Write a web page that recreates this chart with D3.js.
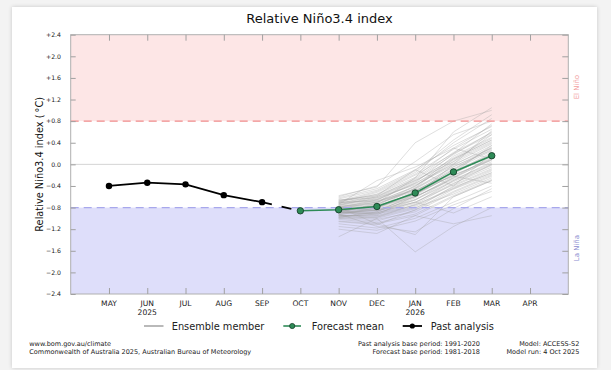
<!DOCTYPE html>
<html><head><meta charset="utf-8">
<script src="https://cdn.jsdelivr.net/npm/d3@7"></script>
<style>
html,body{margin:0;padding:0;background:#f3f3f3;}
#card{position:absolute;left:12px;top:7px;width:585px;height:361px;background:#fff;box-shadow:0 0 4px rgba(0,0,0,0.18);}
svg{position:absolute;left:0;top:0;}
text{font-family:"DejaVu Sans",sans-serif;}
</style></head>
<body><div id="card"></div>
<svg id="chart" width="611" height="370"></svg>
<script>
// ---- data ----
const months = ["MAY","JUN","JUL","AUG","SEP","OCT","NOV","DEC","JAN","FEB","MAR","APR"];
const monthIdx = [1,2,3,4,5,6,7,8,9,10,11,12];
const yearLabels = [{i:2,t:"2025"},{i:9,t:"2026"}];
const yTicks = [-2.4,-2.0,-1.6,-1.2,-0.8,-0.4,0.0,0.4,0.8,1.2,1.6,2.0,2.4];
const pastIdx = [1,2,3,4,5];
const pastVals = [-0.40,-0.34,-0.37,-0.57,-0.70];
const linkIdx = [5,6];
const linkVals = [-0.70,-0.86];
const meanIdx = [6,7,8,9,10,11];
const meanVals = [-0.86,-0.84,-0.78,-0.53,-0.14,0.16];
const ensIdx = [7,8,9,10,11];
const ensemble = [
[-0.62,-0.45,-0.10,0.35,0.70],[-0.70,-0.55,-0.20,0.20,0.55],[-0.78,-0.70,-0.45,-0.05,0.30],
[-0.85,-0.80,-0.55,-0.20,0.10],[-0.92,-0.90,-0.70,-0.35,-0.05],[-1.00,-1.05,-0.85,-0.50,-0.20],
[-0.88,-0.75,-0.40,0.05,0.40],[-0.80,-0.85,-0.65,-0.30,0.00],[-0.95,-0.95,-0.75,-0.45,-0.15],
[-0.75,-0.60,-0.30,0.10,0.45],[-0.68,-0.50,-0.15,0.40,0.85],[-0.90,-0.85,-0.60,-0.25,0.15],
[-1.05,-1.10,-0.95,-0.60,-0.30],[-0.82,-0.72,-0.50,-0.10,0.25],[-0.72,-0.65,-0.35,0.00,0.30],
[-0.98,-0.92,-0.72,-0.30,0.05],[-0.86,-0.82,-0.58,-0.18,0.20],[-0.78,-0.68,-0.42,0.15,0.50],
[-0.94,-0.98,-0.80,-0.55,-0.25],[-0.60,-0.40,0.05,0.55,0.80],[-0.84,-0.78,-0.52,-0.12,0.18],
[-1.10,-1.18,-1.00,-0.70,-0.40],[-0.76,-0.62,-0.38,-0.02,0.35],[-0.90,-0.88,-0.62,-0.22,0.12],
[-0.66,-0.58,-0.28,0.18,0.60],[-0.96,-1.00,-0.82,-0.40,-0.10],[-0.80,-0.70,-0.48,-0.15,0.22],
[-0.88,-0.86,-0.66,-0.32,-0.02],[-0.74,-0.64,-0.32,0.12,0.48],[-1.02,-1.08,-0.92,-0.58,-0.28],
[-0.82,-0.76,-0.55,-0.20,0.08],[-0.70,-0.52,-0.18,0.28,0.65],[-0.92,-0.84,-0.60,-0.28,0.02],
[-0.86,-0.90,-0.70,-0.38,-0.08],[-0.64,-0.48,-0.12,0.45,0.92],[-0.98,-1.02,-0.88,-0.52,-0.22],
[-0.78,-0.74,-0.46,-0.08,0.28],[-0.84,-0.80,-0.56,-0.16,0.16],[-1.15,-1.22,-1.05,-0.75,-0.50],
[-0.72,-0.60,-0.26,0.22,0.58],[-0.90,-0.82,-0.50,-0.10,0.32],[-0.80,-0.78,-0.60,-0.26,0.10],
[-0.94,-0.96,-0.78,-0.44,-0.12],[-0.68,-0.56,-0.24,0.30,0.72],[-0.86,-0.76,-0.44,-0.04,0.26],
[-1.00,-0.98,-0.74,-0.36,0.00],[-0.76,-0.66,-0.36,0.08,0.42],[-0.88,-0.92,-0.76,-0.42,-0.16],
[-0.82,-0.70,-0.40,0.02,0.38],[-0.96,-0.90,-0.66,-0.24,0.08],[-0.58,-0.42,0.40,0.80,1.00],
[-1.34,-1.00,-1.62,-1.15,-0.80],[-1.20,-1.28,-0.95,-1.10,-0.95],[-0.80,-1.10,-1.30,-0.60,-0.30],
[-0.74,-0.30,-0.05,0.30,0.10],[-0.90,-0.72,-0.25,0.60,1.05],[-0.84,-0.86,-0.70,-0.90,-0.60],
[-0.72,-0.58,-0.10,-0.40,0.20],[-0.88,-0.94,-0.58,0.00,0.62],[-0.92,-1.15,-1.25,-0.82,-0.45],
[-0.66,-0.62,-0.30,0.05,0.55],[-0.98,-0.88,-0.55,-0.15,0.35],[-0.80,-0.66,-0.34,0.20,0.75],
[-1.06,-1.12,-0.84,-0.46,-0.18],[-0.70,-0.68,-0.48,-0.22,-0.35],[-0.94,-0.80,-0.44,0.10,0.45]
];

// ---- layout ----
const L=70.7, R=568.3, T=34.7, B=294;
const x = d3.scaleLinear().domain([0,13]).range([L,R]);
const y = d3.scaleLinear().domain([-2.4,2.4]).range([B,T]);
const svg = d3.select("#chart");

// bands
svg.append("rect").attr("x",L).attr("y",y(2.4)).attr("width",R-L).attr("height",y(0.8)-y(2.4)).attr("fill","#fde6e6");
svg.append("rect").attr("x",L).attr("y",y(-0.8)).attr("width",R-L).attr("height",y(-2.4)-y(-0.8)).attr("fill","#dedefa");
// zero line
svg.append("line").attr("x1",L).attr("x2",R).attr("y1",y(0)).attr("y2",y(0)).attr("stroke","#d4d4d4").attr("stroke-width",1);

// ensemble
const lineGen = (idx) => d3.line().x((d,i)=>x(idx[i])).y(d=>y(d));
svg.append("g").selectAll("path").data(ensemble).join("path")
  .attr("d", d=>lineGen(ensIdx)(d)).attr("fill","none").attr("stroke","#a0a0a0").attr("stroke-opacity",0.42).attr("stroke-width",0.8);

// threshold dashed
svg.append("line").attr("x1",L).attr("x2",R).attr("y1",y(0.8)).attr("y2",y(0.8)).attr("stroke","#f08a8a").attr("stroke-width",1.2).attr("stroke-dasharray","8,5");
svg.append("line").attr("x1",L).attr("x2",R).attr("y1",y(-0.8)).attr("y2",y(-0.8)).attr("stroke","#a8a8ec").attr("stroke-width",1.2).attr("stroke-dasharray","8,5");

// frame
svg.append("rect").attr("x",L).attr("y",T).attr("width",R-L).attr("height",B-T).attr("fill","none").attr("stroke","#b0b0b0").attr("stroke-width",1);

// axes
const tickCol="#a0a0a0";
const axL = svg.append("g").attr("transform",`translate(${L},0)`).call(d3.axisRight(y).tickValues(yTicks).tickSize(5).tickFormat(""));
const axR = svg.append("g").attr("transform",`translate(${R},0)`).call(d3.axisLeft(y).tickValues(yTicks).tickSize(6).tickFormat(""));
const axT = svg.append("g").attr("transform",`translate(0,${T})`).call(d3.axisBottom(x).tickValues(monthIdx).tickSize(6).tickFormat(""));
const axB = svg.append("g").attr("transform",`translate(0,${B})`).call(d3.axisTop(x).tickValues(monthIdx).tickSize(6).tickFormat(""));
[axL,axR,axT,axB].forEach(a=>{a.select(".domain").remove();a.selectAll("line").attr("stroke",tickCol);});

// y tick labels
const fmt = v => v===0 ? "0.0" : (v>0 ? "+"+v.toFixed(1) : "\u2212"+Math.abs(v).toFixed(1));
svg.append("g").selectAll("text").data(yTicks).join("text")
  .attr("x",61).attr("y",d=>y(d)+2.2).attr("text-anchor","end").attr("font-size",6.2).attr("fill","#222").text(fmt);
// month labels
svg.append("g").selectAll("text").data(months).join("text")
  .attr("x",(d,i)=>x(monthIdx[i])).attr("y",305.5).attr("text-anchor","middle").attr("font-size",7.6).attr("fill","#222").text(d=>d);
svg.append("g").selectAll("text").data(yearLabels).join("text")
  .attr("x",d=>x(d.i)).attr("y",314.5).attr("text-anchor","middle").attr("font-size",7.6).attr("fill","#222").text(d=>d.t);

// y title
svg.append("text").attr("transform",`translate(43,${(T+B)/2}) rotate(-90)`).attr("text-anchor","middle")
  .attr("font-size",9.8).attr("fill","#111").text("Relative Niño3.4 index (\u2009\u00b0C)");
// title
svg.append("text").attr("x",(L+R)/2).attr("y",22.5).attr("text-anchor","middle").attr("font-size",13).attr("fill","#111").text("Relative Niño3.4 index");
// side labels
svg.append("text").attr("transform",`translate(579,${y(1.43)}) rotate(-90)`).attr("text-anchor","middle").attr("font-size",7).attr("fill","#f2a0a0").text("El Niño");
svg.append("text").attr("transform",`translate(579,${y(-1.55)}) rotate(-90)`).attr("text-anchor","middle").attr("font-size",7).attr("fill","#8c8cd0").text("La Niña");

// past analysis
svg.append("path").attr("d",lineGen(pastIdx)(pastVals)).attr("fill","none").attr("stroke","#000").attr("stroke-width",1.8);
svg.append("path").attr("d",lineGen(linkIdx)(linkVals)).attr("fill","none").attr("stroke","#000").attr("stroke-width",1.8).attr("stroke-dasharray","10,10");
svg.append("g").selectAll("circle").data(pastVals).join("circle")
  .attr("cx",(d,i)=>x(pastIdx[i])).attr("cy",d=>y(d)).attr("r",3.2).attr("fill","#000");
// forecast mean
svg.append("path").attr("d",lineGen(meanIdx)(meanVals)).attr("fill","none").attr("stroke","#2e8b57").attr("stroke-width",1.6);
svg.append("g").selectAll("circle").data(meanVals).join("circle")
  .attr("cx",(d,i)=>x(meanIdx[i])).attr("cy",d=>y(d)).attr("r",3.2).attr("fill","#2e8b57").attr("stroke","#17402a").attr("stroke-width",0.9);

// legend
const lg = svg.append("g").attr("font-size",9.8).attr("fill","#222");
lg.append("line").attr("x1",144).attr("x2",163.5).attr("y1",326).attr("y2",326).attr("stroke","#a8a8a8").attr("stroke-width",1.6);
lg.append("text").attr("x",171.7).attr("y",329.5).text("Ensemble member");
lg.append("line").attr("x1",283.3).attr("x2",301).attr("y1",326).attr("y2",326).attr("stroke","#2e8b57").attr("stroke-width",1.6);
lg.append("circle").attr("cx",292.2).attr("cy",326).attr("r",2.6).attr("fill","#2e8b57").attr("stroke","#17402a").attr("stroke-width",0.8);
lg.append("text").attr("x",311.7).attr("y",329.5).text("Forecast mean");
lg.append("line").attr("x1",402.7).attr("x2",422).attr("y1",326).attr("y2",326).attr("stroke","#000").attr("stroke-width",1.8);
lg.append("circle").attr("cx",412.3).attr("cy",326).attr("r",2.6).attr("fill","#000");
lg.append("text").attr("x",430.7).attr("y",329.5).text("Past analysis");

// footer
const ft = svg.append("g").attr("font-size",6.5).attr("fill","#222");
ft.append("text").attr("x",29.3).attr("y",346).text("www.bom.gov.au/climate");
ft.append("text").attr("x",29.3).attr("y",353.5).text("Commonwealth of Australia 2025, Australian Bureau of Meteorology");
ft.append("text").attr("x",480).attr("y",346).attr("text-anchor","end").text("Past analysis base period: 1991-2020");
ft.append("text").attr("x",480).attr("y",353.5).attr("text-anchor","end").text("Forecast base period: 1981-2018");
ft.append("text").attr("x",579.3).attr("y",346).attr("text-anchor","end").text("Model: ACCESS-S2");
ft.append("text").attr("x",579.3).attr("y",353.5).attr("text-anchor","end").text("Model run: 4 Oct 2025");
</script></body></html>
